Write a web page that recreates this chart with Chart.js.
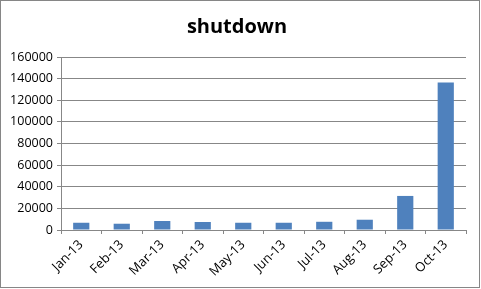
<!DOCTYPE html>
<html>
<head>
<meta charset="utf-8">
<script src="https://cdn.jsdelivr.net/npm/chart.js@4/dist/chart.umd.min.js"></script>
<style>
  html, body { margin: 0; padding: 0; background: #fff; }
  #wrap { width: 481px; height: 289px; position: relative; }
</style>
</head>
<body>
<div id="wrap"><canvas id="c" width="481" height="289"></canvas></div>
<script>
const months = ['Jan-13', 'Feb-13', 'Mar-13', 'Apr-13', 'May-13', 'Jun-13', 'Jul-13', 'Aug-13', 'Sep-13', 'Oct-13'];
const shutdownCounts = [6700, 5800, 8300, 7400, 6700, 6700, 7600, 9500, 31500, 136400];
const yMax = 160000;
const yStep = 20000;

const lineGray = '#878787';

// outer frame around the whole chart
const framePlugin = {
  id: 'frame',
  afterDraw(chart) {
    const ctx = chart.ctx;
    ctx.save();
    ctx.strokeStyle = '#868686';
    ctx.lineWidth = 1;
    ctx.strokeRect(0.5, 0.5, chart.width - 2, chart.height - 2);
    ctx.restore();
  }
};

new Chart(document.getElementById('c'), {
  type: 'bar',
  data: {
    labels: months,
    datasets: [{
      label: 'shutdown',
      data: shutdownCounts,
      backgroundColor: '#4F81BD',
      borderWidth: 0,
      barPercentage: 0.4,
      categoryPercentage: 1.0
    }]
  },
  options: {
    responsive: false,
    animation: false,
    devicePixelRatio: 1,
    layout: { padding: { left: 8, right: 15, top: 0, bottom: 0 } },
    plugins: {
      legend: { display: false },
      tooltip: { enabled: false },
      title: {
        display: true,
        text: 'shutdown',
        color: '#000',
        font: { family: 'Open Sans', size: 20, weight: 'bold' },
        padding: { top: 15, bottom: 18 }
      }
    },
    scales: {
      x: {
        offset: true,
        grid: {
          offset: true,
          drawOnChartArea: false,
          drawTicks: true,
          tickLength: 4,
          color: lineGray
        },
        border: { display: true, color: lineGray, width: 1 },
        ticks: {
          color: '#000',
          font: { family: 'Open Sans', size: 13 },
          minRotation: 45,
          maxRotation: 45,
          padding: 3,
          autoSkip: false
        },
        afterFit(scale) { scale.height = 59; }
      },
      y: {
        min: 0,
        max: yMax,
        grid: {
          color: lineGray,
          tickLength: 4,
          drawTicks: true
        },
        border: { display: true, color: lineGray, width: 1 },
        ticks: {
          stepSize: yStep,
          color: '#000',
          font: { family: 'Open Sans', size: 12.5 },
          padding: 4,
          callback: v => String(v)
        },
        afterFit(scale) { scale.width = 53; }
      }
    }
  },
  plugins: [framePlugin]
});
</script>
</body>
</html>
